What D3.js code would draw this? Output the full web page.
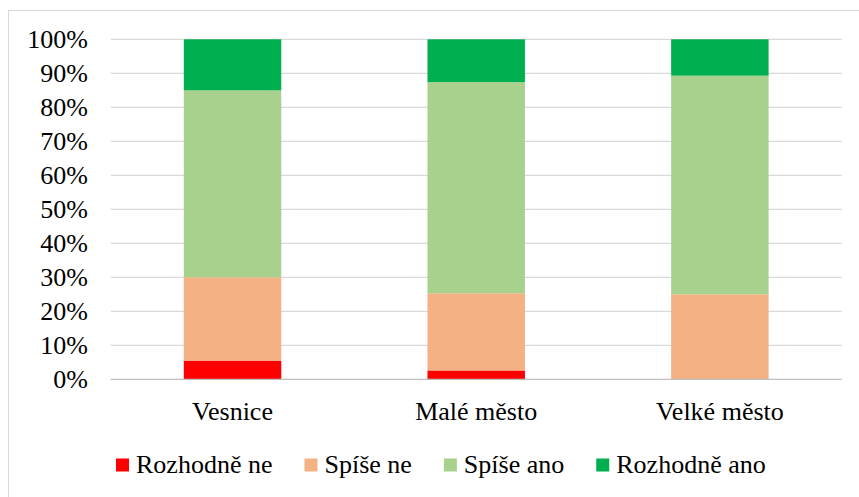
<!DOCTYPE html>
<html><head><meta charset="utf-8">
<script src="https://cdn.jsdelivr.net/npm/d3@7"></script>
<style>
@font-face { font-family: "ChartSerif"; src: local("Liberation Serif"), local("LiberationSerif"), local("LiberationSerif-Regular"), local("Tinos"), local("Times New Roman"); }
html, body { margin: 0; padding: 0; background: #fff; }
</style>
</head><body>
<svg id="chart" width="859" height="497"></svg>
<script>
const categories = ["Vesnice", "Malé město", "Velké město"];
const seriesNames = ["Rozhodně ne", "Spíše ne", "Spíše ano", "Rozhodně ano"];
const rozhodneNe = [5.5, 2.6, 0];
const spiseNe = [24.5, 22.7, 25.0];
const spiseAno = [55.0, 62.1, 64.3];
const rozhodneAno = [15.0, 12.6, 10.7];
const colors = ["#ff0000", "#f4b183", "#a9d18e", "#00b050"];
const yTicks = [0, 10, 20, 30, 40, 50, 60, 70, 80, 90, 100];

(function () {
const svg = d3.select("#chart");
const W = 859, H = 497;
const FONT = '"Liberation Serif", "ChartSerif", "Tinos", "Times New Roman", "FreeSerif"';
const fs = "26px";

function addText(txt, tx, ty, anchor) {
  return svg.append("text").attr("x", tx).attr("y", ty)
    .attr("text-anchor", anchor).attr("fill", "#000")
    .style("font-family", FONT).style("font-size", fs)
    .text(txt);
}

// chart border (Excel chart area)
svg.append("rect").attr("x", 8.5).attr("y", 10.5).attr("width", W).attr("height", H)
  .attr("fill", "#fff").attr("stroke", "#d9d9d9").attr("stroke-width", 1);

const pLeft = 110.7, pRight = 841.7, pTop = 39.3, pBottom = 379.3;
const x = d3.scaleBand().domain(categories).range([pLeft, pRight]).paddingInner(0.6).paddingOuter(0.3);
const y = d3.scaleLinear().domain([0, 100]).range([pBottom, pTop]);

// gridlines
svg.selectAll("line.grid").data(yTicks.filter(d => d > 0)).join("line")
  .attr("class", "grid")
  .attr("x1", pLeft).attr("x2", pRight)
  .attr("y1", d => y(d)).attr("y2", d => y(d))
  .attr("stroke", "#d9d9d9").attr("stroke-width", 1.3);

// stacked bars
const rows = categories.map((c, i) => ({cat: c, "Rozhodně ne": rozhodneNe[i], "Spíše ne": spiseNe[i], "Spíše ano": spiseAno[i], "Rozhodně ano": rozhodneAno[i]}));
const stacked = d3.stack().keys(seriesNames)(rows);
svg.append("g").selectAll("g").data(stacked).join("g")
  .attr("fill", (d, i) => colors[i])
  .selectAll("rect").data(d => d).join("rect")
  .attr("x", d => x(d.data.cat))
  .attr("width", x.bandwidth())
  .attr("y", d => y(d[1]))
  .attr("height", d => y(d[0]) - y(d[1]));

// x axis line
svg.append("line").attr("x1", pLeft).attr("x2", pRight).attr("y1", pBottom).attr("y2", pBottom)
  .attr("stroke", "#bfbfbf").attr("stroke-width", 1.3);

// y axis labels
yTicks.forEach(v => addText(v + "%", 88, y(v) + 8.6, "end"));

// x axis labels
categories.forEach(c => addText(c, x(c) + x.bandwidth() / 2, 420, "middle"));

// legend
let lx = 116;
seriesNames.forEach((name, i) => {
  svg.append("rect").attr("x", lx).attr("y", 458.5).attr("width", 13).attr("height", 13).attr("fill", colors[i]);
  const t = addText(name, lx + 20, 473, "start");
  const w = t.node().getComputedTextLength();
  lx += 20 + w + 32;
});
})();
</script>
</body></html>
